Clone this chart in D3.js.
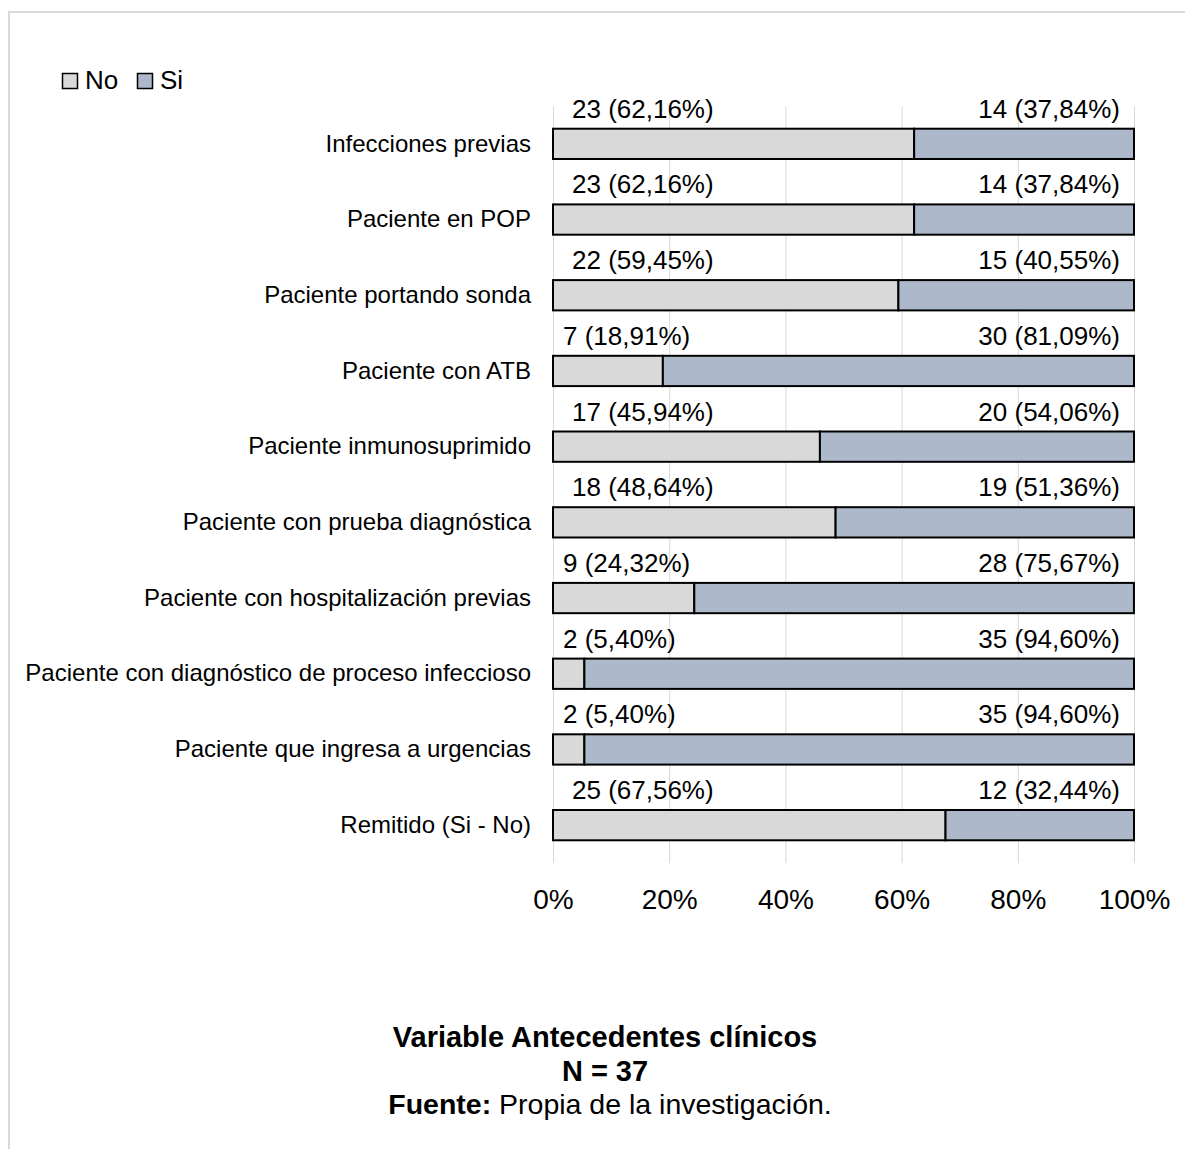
<!DOCTYPE html>
<html>

<head>
    <meta charset="utf-8">
    <style>
        body {
            margin: 0;
            background: white;
            font-family: 'Liberation Sans', Arial, sans-serif;
        }

        svg {
            display: block;
        }

        .grid line {
            stroke: #d9d9d9;
            stroke-width: 1;
        }

        .frame {
            stroke: #d9d9d9;
            stroke-width: 2;
            fill: none;
        }
    </style>
</head>

<body>
    <svg width="1185" height="1149"></svg>

    <script src="https://d3js.org/d3.v7.min.js"></script>

    <script>
        // data
        let categories = [
            "Infecciones previas",
            "Paciente en POP",
            "Paciente portando sonda",
            "Paciente con ATB",
            "Paciente inmunosuprimido",
            "Paciente con prueba diagnóstica",
            "Paciente con hospitalización previas",
            "Paciente con diagnóstico de proceso infeccioso",
            "Paciente que ingresa a urgencias",
            "Remitido (Si - No)"
        ]
        let noCount = [23, 23, 22, 7, 17, 18, 9, 2, 2, 25]
        let siCount = [14, 14, 15, 30, 20, 19, 28, 35, 35, 12]
        let noPct = [62.16, 62.16, 59.45, 18.91, 45.94, 48.64, 24.32, 5.40, 5.40, 67.56]
        let siPct = [37.84, 37.84, 40.55, 81.09, 54.06, 51.36, 75.67, 94.60, 94.60, 32.44]
        let series = ["No", "Si"]
        let ticks = [0, 20, 40, 60, 80, 100]

        let colors = { No: "#d9d9d9", Si: "#adb9ca" }

        let es = d3.formatLocale({ decimal: ",", thousands: ".", grouping: [3], currency: ["", "€"] })
        let fmtPct = es.format(".2f")

        let rows = categories.map((c, i) => ({
            cat: c, No: noPct[i], Si: siPct[i], noN: noCount[i], siN: siCount[i]
        }))

        let svg = d3.select("svg")

        // outer frame (only top and left are visible in the picture)
        svg.append("path")
            .attr("class", "frame")
            .attr("d", "M9,1149 V12 H1185")

        let x0 = 553, x1 = 1134
        let yTop = 106, yBot = 863

        let x = d3.scaleLinear()
            .domain([0, 100])
            .range([x0, x1])

        let y = d3.scaleBand()
            .domain(categories)
            .range([yTop, yBot])
            .paddingInner(0.6)
            .paddingOuter(0.3)

        // vertical gridlines
        svg.append("g")
            .attr("class", "grid")
            .selectAll("line")
            .data(ticks)
            .join("line")
            .attr("x1", d => x(d) + 0.5)
            .attr("x2", d => x(d) + 0.5)
            .attr("y1", yTop)
            .attr("y2", yBot)

        // x axis labels
        let xAxis = d3.axisBottom(x)
            .tickValues(ticks)
            .tickFormat(d => d + "%")
            .tickSize(0)
            .tickPadding(0)

        let gx = svg.append("g")
            .attr("transform", `translate(0, ${yBot + 20})`)
            .call(xAxis)
        gx.select(".domain").remove()
        gx.selectAll("text")
            .attr("dy", null)
            .attr("y", 26)
            .style("font-family", "'Liberation Sans', Arial, sans-serif")
            .style("font-size", "28px")
            .style("fill", "#000")

        // stacked bars
        let stacked = d3.stack().keys(series)(rows)

        svg.append("g")
            .selectAll("g")
            .data(stacked)
            .join("g")
            .attr("fill", d => colors[d.key])
            .selectAll("rect")
            .data(d => d)
            .join("rect")
            .attr("x", d => x(d[0]))
            .attr("width", d => x(d[1]) - x(d[0]))
            .attr("y", d => y(d.data.cat))
            .attr("height", y.bandwidth())
            .style("stroke", "#000")
            .style("stroke-width", 2)

        // category labels
        let yAxis = d3.axisLeft(y)
            .tickSize(0)
            .tickPadding(22)

        let gy = svg.append("g")
            .attr("transform", `translate(${x0}, 0)`)
            .call(yAxis)
        gy.select(".domain").remove()
        gy.selectAll("text")
            .style("font-family", "'Liberation Sans', Arial, sans-serif")
            .style("font-size", "24px")
            .style("fill", "#000")

        // data labels above bars
        let labels = svg.append("g")
            .style("font-size", "26px")
            .style("fill", "#000")

        labels.selectAll(".lab-no")
            .data(rows)
            .join("text")
            .attr("class", "lab-no")
            .attr("x", d => x0 + (d.noN < 10 ? 10 : 19))
            .attr("y", d => y(d.cat) - 11)
            .text(d => d.noN + " (" + fmtPct(d.No) + "%)")

        labels.selectAll(".lab-si")
            .data(rows)
            .join("text")
            .attr("class", "lab-si")
            .attr("x", x1 - 14)
            .attr("y", d => y(d.cat) - 11)
            .attr("text-anchor", "end")
            .text(d => d.siN + " (" + fmtPct(d.Si) + "%)")

        // legend
        let legend = svg.append("g")
            .attr("transform", "translate(62, 73)")

        let lx = 0
        series.forEach(s => {
            legend.append("rect")
                .attr("x", lx + 0.5)
                .attr("y", 0.5)
                .attr("width", 15)
                .attr("height", 15)
                .attr("fill", colors[s])
                .attr("stroke", "#000")
                .attr("stroke-width", 1.5)
            legend.append("text")
                .attr("x", lx + 23)
                .attr("y", 16)
                .style("font-size", "26px")
                .text(s)
            lx += 75
        })

        // caption under the chart
        let cap = svg.append("g")
            .attr("text-anchor", "middle")

        cap.append("text")
            .attr("x", 605)
            .attr("y", 1047)
            .style("font-size", "29px")
            .style("font-weight", "bold")
            .text("Variable Antecedentes clínicos")

        cap.append("text")
            .attr("x", 605)
            .attr("y", 1081)
            .style("font-size", "29px")
            .style("font-weight", "bold")
            .text("N = 37")

        let f = cap.append("text")
            .attr("x", 610)
            .attr("y", 1114)
            .style("font-size", "28.5px")
        f.append("tspan").style("font-weight", "bold").text("Fuente:")
        f.append("tspan").text(" Propia de la investigación.")
    </script>
</body>

</html>
